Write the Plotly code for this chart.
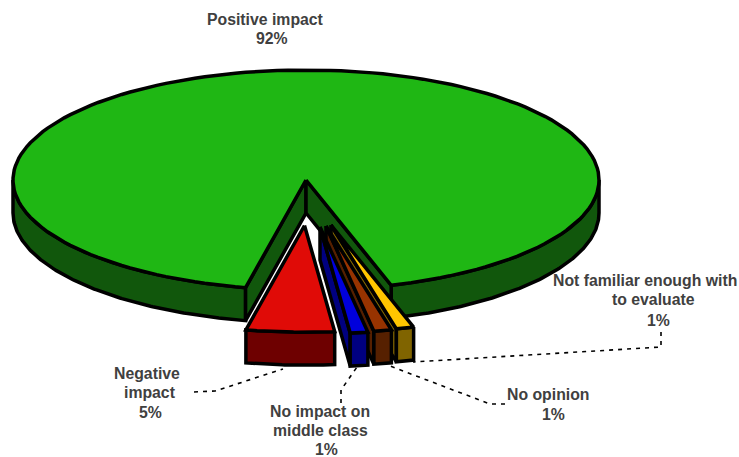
import numpy as np
import plotly.graph_objects as go

# Survey results, in the order the slices run clockwise around the pie
categories = ["Positive impact", "Not familiar enough with to evaluate", "No opinion",
              "No impact on middle class", "Negative impact"]
values = [92, 1, 1, 1, 5]

top_colors = ["#1fb714", "#ffc600", "#983300", "#0000dc", "#e00b07"]
wall_colors = ["#11570c", "#806400", "#562000", "#000080", "#6e0000"]

# Pie projection, in pixels of the 739x457 page
CX, CY = 306, 180
RX, RY = 293, 110
DEPTH = 33
START_BEARING = 180 + 11.9  # the first slice starts just west of south
PULLED_SCALE = 0.97
EDGE_WIDTH = 3.5
# Pull-out of each slice from the centre (x, y)
pulls = [(0, 0), (25, 45), (20, 46), (14, 47), (-1.5, 45.5)]


def slice_spans(vals):
    """Angle span of each slice; bearings run clockwise on screen from the 'up' direction."""
    total = sum(vals)
    spans, a = [], START_BEARING
    for v in vals:
        b = a + 360 * v / total
        spans.append((a, b))
        a = b
    return spans


def project(bearing, scale=1.0):
    rad = np.radians(bearing)
    return scale * RX * np.sin(rad), -scale * RY * np.cos(rad)


def closed(xs, ys):
    return list(xs) + [xs[0]], list(ys) + [ys[0]]


def add_poly(fig, xs, ys, fill):
    x, y = closed(xs, ys)
    fig.add_trace(go.Scatter(x=x, y=y, mode="lines", fill="toself", fillcolor=fill,
                             line=dict(color="black", width=EDGE_WIDTH), hoverinfo="skip",
                             showlegend=False))


def arc(a, b, scale=1.0, n=160):
    t = np.linspace(a, b, n)
    return project(t, scale)


fig = go.Figure()
spans = slice_spans(values)

# Big slice: outer wall, the two walls of the notch, then the top face
a, b = spans[0]
for lo, hi in [(a, 270), (450, b)]:
    ax, ay = arc(lo, hi)
    ax, ay = ax + CX, ay + CY
    add_poly(fig, np.r_[ax, ax[::-1]], np.r_[ay, ay[::-1] + DEPTH], wall_colors[0])
for edge in (a, b):
    ex, ey = project(edge)
    add_poly(fig, [CX, CX + ex, CX + ex, CX], [CY, CY + ey, CY + ey + DEPTH, CY + DEPTH], wall_colors[0])
ax, ay = arc(a, b)
add_poly(fig, np.r_[CX, ax + CX], np.r_[CY, ay + CY], top_colors[0])

# Pulled slices, drawn from the far right towards the red one so nearer faces cover the rest
for i in range(1, len(values)):
    a, b = spans[i]
    ox, oy = CX + pulls[i][0], CY + pulls[i][1]
    ax, ay = arc(a, b, PULLED_SCALE, 40)
    ax, ay = ax + ox, ay + oy
    if i < len(values) - 1:
        # The cut wall faces the viewer for slices right of centre
        add_poly(fig, [ox, ax[-1], ax[-1], ox], [oy, ay[-1], ay[-1] + DEPTH, oy + DEPTH], wall_colors[i])
    add_poly(fig, np.r_[ax, ax[::-1]], np.r_[ay, ay[::-1] + DEPTH], wall_colors[i])
    add_poly(fig, np.r_[ox, ax], np.r_[oy, ay], top_colors[i])

# Dashed leader lines from the labels to their slices
leaders = [
    ([194, 215, 283], [392, 391, 369]),
    ([341, 341, 357], [403, 390, 367]),
    ([505, 490, 390], [404, 404, 366]),
    ([661, 661, 413], [332, 347, 362]),
]
for lx, ly in leaders:
    fig.add_trace(go.Scatter(x=lx, y=ly, mode="lines", hoverinfo="skip", showlegend=False,
                             line=dict(color="black", width=1.6, dash="4px,5px")))

# Label lines, each centred on its own anchor
label_lines = [
    (categories[0], 265, 19), (f"{values[0]}%", 272, 38),
    ("Not familiar enough with", 644.5, 280), ("to evaluate", 653, 299), (f"{values[1]}%", 658, 320),
    (categories[2], 548, 394), (f"{values[2]}%", 553, 414),
    ("No impact on", 320, 411), ("middle class", 320, 430), (f"{values[3]}%", 326, 449),
    ("Negative", 147, 373), ("impact", 150, 392), (f"{values[4]}%", 150, 412),
]
annotations = [
    dict(x=x, y=y, text=t, showarrow=False, xanchor="center", yanchor="middle",
         font=dict(family="Liberation Sans", size=15.8, color="#404040", weight="bold"))
    for t, x, y in label_lines
]

fig.update_layout(
    width=739, height=457, margin=dict(l=0, r=0, t=0, b=0),
    paper_bgcolor="white", plot_bgcolor="white", showlegend=False,
    xaxis=dict(range=[0, 739], visible=False, fixedrange=True),
    yaxis=dict(range=[457, 0], visible=False, fixedrange=True),
    annotations=annotations,
)
fig.write_html("out.html", config={"displayModeBar": False})
